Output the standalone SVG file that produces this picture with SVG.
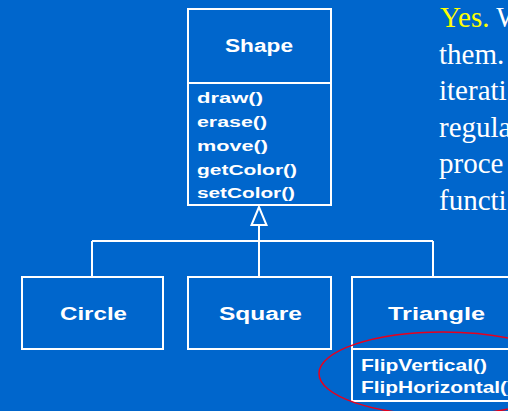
<svg xmlns="http://www.w3.org/2000/svg" width="508" height="411" viewBox="0 0 508 411">
<style>
.box{fill:none;stroke:#fff;stroke-width:2}
.conn{fill:none;stroke:#fff;stroke-width:2}
.name{font-family:"Liberation Sans",Arial,sans-serif;font-weight:bold;font-size:18px;fill:#fff}
.op{font-family:"Liberation Sans",Arial,sans-serif;font-weight:bold;font-size:14px;fill:#fff}
.flip{font-family:"Liberation Sans",Arial,sans-serif;font-weight:bold;font-size:17px;fill:#fff}
.prose{font-family:"Liberation Serif","Times New Roman",serif;font-size:29px;fill:#fff}
</style>
<rect x="0" y="0" width="508" height="411" fill="#0066CC"/>
<g id="connectors">
<path class="conn" d="M259,225 V241 M92,241 H433 M92,241 V277 M259,241 V277 M433,241 V277"/>
<polygon points="259,207 251.5,225 266.5,225" fill="#0066CC" stroke="#fff" stroke-width="2"/>
</g>
<g id="shape">
<rect class="box" x="188" y="9" width="143" height="196"/>
<line class="box" x1="188" y1="83" x2="331" y2="83"/>
<text class="name" x="225" y="51.5" textLength="68" lengthAdjust="spacingAndGlyphs">Shape</text>
<text class="op" x="197" y="103" textLength="66" lengthAdjust="spacingAndGlyphs">draw()</text>
<text class="op" x="197" y="127" textLength="70" lengthAdjust="spacingAndGlyphs">erase()</text>
<text class="op" x="197" y="151" textLength="71" lengthAdjust="spacingAndGlyphs">move()</text>
<text class="op" x="197" y="174.5" textLength="100" lengthAdjust="spacingAndGlyphs">getColor()</text>
<text class="op" x="197" y="198" textLength="98" lengthAdjust="spacingAndGlyphs">setColor()</text>
</g>
<g id="circle">
<rect class="box" x="22" y="277" width="141" height="72"/>
<text class="name" x="60" y="320" textLength="67" lengthAdjust="spacingAndGlyphs">Circle</text>
</g>
<g id="square">
<rect class="box" x="188" y="277" width="143" height="72"/>
<text class="name" x="219" y="320" textLength="83" lengthAdjust="spacingAndGlyphs">Square</text>
</g>
<g id="triangle">
<rect class="box" x="352" y="277" width="162" height="124"/>
<line class="box" x1="352" y1="349" x2="514" y2="349"/>
<text class="name" x="388" y="320" textLength="97" lengthAdjust="spacingAndGlyphs">Triangle</text>
<text class="flip" x="361" y="371" textLength="126" lengthAdjust="spacingAndGlyphs">FlipVertical()</text>
<text class="flip" x="361" y="393" textLength="153" lengthAdjust="spacingAndGlyphs">FlipHorizontal()</text>
</g>
<ellipse cx="443" cy="373.5" rx="124" ry="41.5" fill="none" stroke="#E8001C" stroke-width="1.5"/>
<g id="prose">
<text class="prose" x="440" y="27"><tspan fill="#FFFF00">Yes.</tspan> W</text>
<text class="prose" x="439" y="63.5">them.</text>
<text class="prose" x="439" y="100">iterati</text>
<text class="prose" x="439" y="136.5">regula</text>
<text class="prose" x="439" y="173">proce</text>
<text class="prose" x="439" y="209.5">functi</text>
</g>
</svg>
